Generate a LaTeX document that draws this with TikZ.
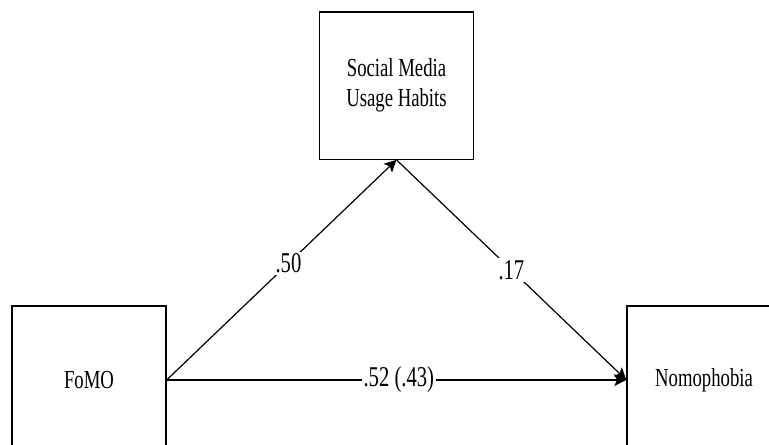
\documentclass[tikz,border=0pt]{standalone}
\usepackage{fontspec}
\setmainfont{Liberation Serif}
\usetikzlibrary{arrows.meta}
\newcommand{\sq}[1]{\scalebox{0.72}[1]{#1}}
\tikzset{
  varbox/.style={draw=black, line width=1pt, fill=white, minimum width=115.5pt, minimum height=110.5pt, inner sep=0pt,
    font=\fontsize{19.5}{23}\selectfont},
  path/.style={line width=0.9pt, -{Stealth[length=9pt,width=9pt,inset=2pt]}},
  coef/.style={fill=white, inner sep=1.5pt, font=\fontsize{21.5}{24}\selectfont}
}
\begin{document}
\begin{tikzpicture}[x=0.75pt,y=-0.75pt]
\useasboundingbox (0,0) rectangle (769,444);
\clip (0,0) rectangle (769,444);
\node[varbox] (S) at (396.5,85.5) {\raisebox{-3pt}{\sq{\begin{tabular}{@{}c@{}}Social Media\\Usage Habits\end{tabular}}}};
\node[varbox, minimum height=111pt] (F) at (89,380) {\sq{FoMO}};
\node[varbox, minimum height=111pt] (N) at (704,380) {\sq{Nomophobia}};
\draw[path] (F.east) -- (S.south) node[coef, pos=0.53] (c1) {\sq{.50}};
\draw[path] (S.south) -- (N.west) node[coef, pos=0.50] (c2) {\sq{.17}};
\draw[path] (F.east) -- (N.west) node[coef, pos=0.505] (c3) {\sq{.52 (.43)}};
\end{tikzpicture}
\end{document}
